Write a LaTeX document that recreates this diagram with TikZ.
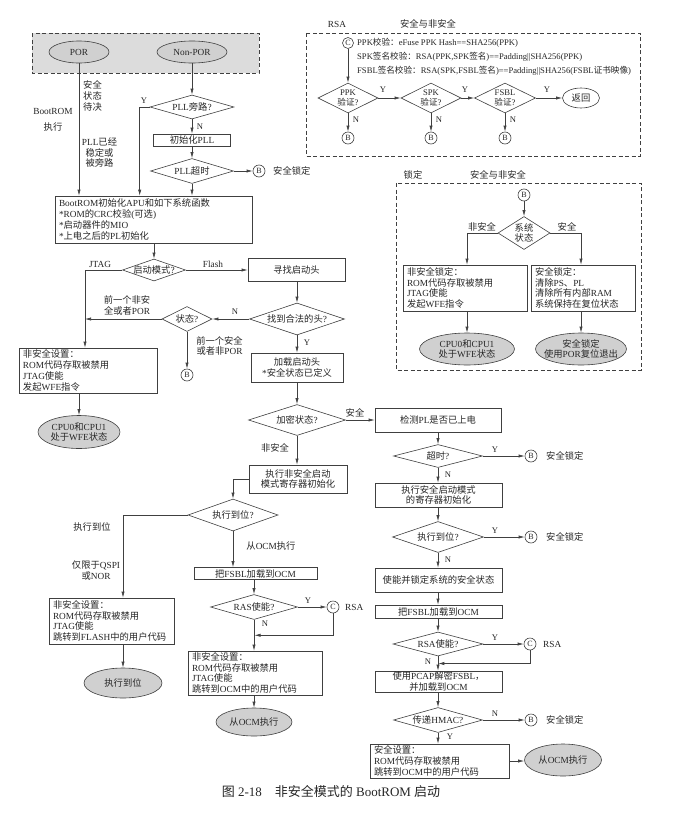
\documentclass[tikz,border=0pt]{standalone}
\usepackage{fontspec}
\setmainfont{Liberation Serif}
\newfontfamily\cjkf{Noto Sans CJK SC}
\newfontfamily\latf{Liberation Serif}
\usetikzlibrary{arrows.meta,shapes.geometric,calc}
\XeTeXinterchartokenstate=1
\chardef\cjkcls=7
\newcount\cjkcnt
\def\setcjkrange#1#2{\cjkcnt=#1\relax\loop\XeTeXcharclass\cjkcnt=\cjkcls\relax\ifnum\cjkcnt<#2\relax\advance\cjkcnt by 1\relax\repeat}
\setcjkrange{"3000}{"303F}
\setcjkrange{"4E00}{"9FFF}
\setcjkrange{"FF00}{"FFEF}
\XeTeXinterchartoks 0 \cjkcls = {\cjkf}
\XeTeXinterchartoks 4095 \cjkcls = {\cjkf}
\XeTeXinterchartoks \cjkcls 0 = {\latf}
\XeTeXinterchartoks \cjkcls 4095 = {\latf}

\definecolor{lc}{HTML}{404040}
\definecolor{tc}{HTML}{262626}
\definecolor{gf}{HTML}{D0D0D0}
\definecolor{gb}{HTML}{DCDCDC}
\newcommand\fs{\fontsize{9.3}{10.8}\selectfont}
\newcommand\fsm{\fontsize{8.6}{10}\selectfont}
\tikzset{
 lw/.style={draw=lc, line width=0.6pt},
 box/.style={lw, rectangle, inner sep=1pt, align=center, text=tc, font=\fs},
 lbox/.style={lw, rectangle, inner xsep=4pt, inner ysep=1pt, align=left, text=tc, font=\fs},
 dia/.style={lw, diamond, inner sep=0pt},
 ell/.style={lw, ellipse, inner sep=0pt, fill=gf},
 lab/.style={inner sep=0pt, align=center, text=tc, font=\fs},
 yn/.style={inner sep=0pt, text=tc, font=\fsm},
 circ/.style={lw, circle, minimum size=12pt, inner sep=0pt, text=tc, font=\fontsize{8}{8}\selectfont},
 arr/.style={lw, -{Latex[length=6pt,width=3.2pt]}},
 dashbox/.style={draw=lc, line width=0.6pt, dash pattern=on 4pt off 2.5pt},
}
\begin{document}
\begin{tikzpicture}[x=1pt,y=-1pt]
\useasboundingbox[fill=white] (0,0) rectangle (674,814);

% ---------- top gray region
\draw[dashbox, fill=gb] (32,33) rectangle (259,73);
\node[ell, minimum width=60, minimum height=22, label={[lab]center:POR}] (por) at (79,52) {};
\node[ell, minimum width=70, minimum height=22, label={[lab]center:Non-POR}] (npor) at (192,52) {};

\node[lab] (l1) at (92.5,96) {安全\\状态\\待决};
\node[lab] (l2) at (53,111) {BootROM};
\node[lab] (l2b) at (53,127) {执行};
\node[lab] (l3) at (99.5,152.5) {PLL已经\\稳定或\\被旁路};

\node[dia, minimum width=84, minimum height=24, label={[lab]center:PLL旁路?}] (pllbyp) at (192,107) {};
\node[box, minimum width=77, minimum height=12, inner sep=0pt] (initpll) at (192,140) {初始化PLL};
\node[dia, minimum width=83, minimum height=25, label={[lab]center:PLL超时}] (plltime) at (192,171) {};
\node[circ] (b1) at (259,171) {B};
\node[lab, anchor=west] (b1t) at (273,171) {安全锁定};
\node[yn] (y1) at (144,101) {Y};
\node[yn] (n1) at (200,127) {N};

\node[lbox, minimum width=197, text width=189, minimum height=47] (bootrom) at (153.5,219.5) {BootROM初始化APU和如下系统函数\\{}*ROM的CRC校验(可选)\\{}*启动器件的MIO\\{}*上电之后的PL初始化};

\node[dia, minimum width=63, minimum height=22, label={[lab]center:启动模式?}] (bootmode) at (154,270) {};
\node[lab] (jt) at (100,264) {JTAG};
\node[lab] (fl) at (213,264) {Flash};
\node[box, minimum width=97, minimum height=23] (findhdr) at (296.5,270) {寻找启动头};
\node[dia, minimum width=95, minimum height=32, label={[lab]center:找到合法的头?}] (validhdr) at (297,319) {};
\node[dia, minimum width=50, minimum height=25, label={[lab]center:状态?}] (state) at (187,319) {};
\node[yn] (n2) at (235,312) {N};
\node[lab] (l4) at (127,305.5) {前一个非安\\全或者POR};
\node[lab] (l5) at (219.5,346) {前一个安全\\或者非POR};
\node[circ] (b2) at (187,375) {B};
\node[yn] (y2) at (307,343) {Y};
\node[box, minimum width=92, minimum height=29] (loadhdr) at (297,367.5) {加载启动头\\{}*安全状态已定义};

\node[lbox, minimum width=138, text width=130, minimum height=45] (nsset1) at (88,370.5) {非安全设置：\\ROM代码存取被禁用\\JTAG使能\\发起WFE指令};
\node[ell, minimum width=82, minimum height=33, label={[lab]center:CPU0和CPU1\\处于WFE状态}] (wfe1) at (79,432) {};

\node[dia, minimum width=97, minimum height=31, label={[lab]center:加密状态?}] (enc) at (297,420) {};
\node[lab] (l6) at (355,413) {安全};
\node[lab] (l7) at (275,448) {非安全};
\node[box, minimum width=126, minimum height=24] (detpl) at (438,420) {检测PL是否已上电};
\node[box, minimum width=98, minimum height=28] (nsinit) at (298,479) {执行非安全启动\\模式寄存器初始化};
\node[dia, minimum width=90, minimum height=32, label={[lab]center:执行到位?}] (exec1) at (233,515) {};
\node[lab] (l8) at (92,527) {执行到位};
\node[lab] (l9) at (96,570.5) {仅限于QSPI\\或NOR};
\node[lab] (l10) at (271,546) {从OCM执行};
\node[lbox, minimum width=125, text width=117, minimum height=46] (nsset2) at (111.5,621) {非安全设置：\\ROM代码存取被禁用\\JTAG使能\\跳转到FLASH中的用户代码};
\node[ell, minimum width=78, minimum height=30, label={[lab]center:执行到位}] (done) at (123,683) {};

\node[box, minimum width=123, minimum height=12, inner sep=0pt] (lf1) at (255.5,573.5) {把FSBL加载到OCM};
\node[dia, minimum width=87, minimum height=25, label={[lab]center:RAS使能?}] (ras) at (254,607) {};
\node[circ] (c1) at (333,607) {C};
\node[lab, anchor=west] (c1t) at (345,607) {RSA};
\node[yn] (y3) at (308,601) {Y};
\node[yn] (n3) at (265,624) {N};
\node[lbox, minimum width=134, text width=126, minimum height=44] (nsset3) at (255,673) {非安全设置：\\ROM代码存取被禁用\\JTAG使能\\跳转到OCM中的用户代码};
\node[ell, minimum width=76, minimum height=28, label={[lab]center:从OCM执行}] (ocm1) at (254,722) {};

% ---------- right column
\node[dia, minimum width=89, minimum height=23, label={[lab]center:超时?}] (tout) at (438,456) {};
\node[circ] (b3) at (531,456) {B};
\node[lab, anchor=west] (b3t) at (546,456) {安全锁定};
\node[yn] (y4) at (495,450) {Y};
\node[yn] (n4) at (448,475) {N};
\node[box, minimum width=127, minimum height=24] (secinit) at (438.5,495) {执行安全启动模式\\的寄存器初始化};
\node[dia, minimum width=91, minimum height=31, label={[lab]center:执行到位?}] (exec2) at (438,537) {};
\node[circ] (b4) at (531,537) {B};
\node[lab, anchor=west] (b4t) at (546,537) {安全锁定};
\node[yn] (y5) at (495,531) {Y};
\node[yn] (n5) at (448,560) {N};
\node[box, minimum width=127, minimum height=24] (lock) at (438.5,580) {使能并锁定系统的安全状态};
\node[box, minimum width=127, minimum height=13, inner sep=0pt] (lf2) at (438.5,611.5) {把FSBL加载到OCM};
\node[dia, minimum width=90, minimum height=24, label={[lab]center:RSA使能?}] (rsa2) at (438,644) {};
\node[circ] (c2) at (530,644) {C};
\node[lab, anchor=west] (c2t) at (543,644) {RSA};
\node[yn] (y6) at (495,638) {Y};
\node[yn] (n6) at (428,662) {N};
\node[box, minimum width=127, minimum height=21, inner sep=0pt] (pcap) at (438.5,681.5) {使用PCAP解密FSBL，\\并加载到OCM};
\node[dia, minimum width=89, minimum height=25, label={[lab]center:传递HMAC?}] (hmac) at (438,720) {};
\node[circ] (b5) at (531,720) {B};
\node[lab, anchor=west] (b5t) at (546,720) {安全锁定};
\node[yn] (n7) at (495,714) {N};
\node[yn] (y7) at (450,737) {Y};
\node[lbox, minimum width=139, text width=131, minimum height=34] (secset) at (439.5,761) {安全设置：\\ROM代码存取被禁用\\跳转到OCM中的用户代码};
\node[ell, minimum width=77, minimum height=32, label={[lab]center:从OCM执行}] (ocm2) at (563,760) {};

% ---------- RSA box
\draw[dashbox] (306,33) rectangle (640,156);
\node[lab] (rsat) at (337,24) {RSA};
\node[lab] (rsat2) at (428,24) {安全与非安全};
\node[circ, minimum size=11pt] (c3) at (348,43) {C};
\node[lab, font=\fontsize{8.6}{14}\selectfont, align=left, anchor=west] (rsatext) at (357,57) {PPK校验：eFuse PPK Hash==SHA256(PPK)\\SPK签名校验：RSA(PPK,SPK签名)==Padding||SHA256(PPK)\\FSBL签名校验：RSA(SPK,FSBL签名)==Padding||SHA256(FSBL证书映像)};
\node[dia, minimum width=60, minimum height=30, label={[lab,font=\fsm]center:PPK\\验证?}] (ppk) at (348,98) {};
\node[dia, minimum width=60, minimum height=30, label={[lab,font=\fsm]center:SPK\\验证?}] (spk) at (431,98) {};
\node[dia, minimum width=61, minimum height=30, label={[lab,font=\fsm]center:FSBL\\验证?}] (fsbl) at (505,98) {};
\node[lw, ellipse, inner sep=0pt, minimum width=37, minimum height=20, label={[lab]center:返回}] (ret) at (581,98) {};
\node[circ] (b6) at (348,138) {B};
\node[circ] (b7) at (431,138) {B};
\node[circ] (b8) at (505,138) {B};
\node[yn] (y8) at (383,90) {Y};
\node[yn] (y9) at (465,90) {Y};
\node[yn] (y10) at (547,90) {Y};
\node[yn] (n8) at (356,120) {N};
\node[yn] (n9) at (439,120) {N};
\node[yn] (n10) at (513,120) {N};

% ---------- lock box
\draw[dashbox] (396,183) rectangle (641,370);
\node[lab] (lockt) at (413,175) {锁定};
\node[lab] (lockt2) at (498,175) {安全与非安全};
\node[circ] (b9) at (524,195) {B};
\node[dia, minimum width=52, minimum height=33, label={[lab]center:系统\\状态}] (sys) at (524,233) {};
\node[lab] (l11) at (482,227) {非安全};
\node[lab] (l12) at (567,227) {安全};
\node[lbox, minimum width=124, text width=116, minimum height=46] (nsl) at (465,288) {非安全锁定：\\ROM代码存取被禁用\\JTAG使能\\发起WFE指令};
\node[lbox, minimum width=104, text width=96, minimum height=46] (sl) at (583,288) {安全锁定：\\清除PS、PL\\清除所有内部RAM\\系统保持在复位状态};
\node[ell, minimum width=95, minimum height=32, label={[lab]center:CPU0和CPU1\\处于WFE状态}] (wfe2) at (467,349) {};
\node[ell, minimum width=91, minimum height=32, label={[lab]center:安全锁定\\使用POR复位退出}] (porx) at (581,349) {};

% ---------- caption
\node[lab, font=\fontsize{13}{13}\selectfont] (cap) at (331,791) {图 2-18\quad 非安全模式的 BootROM 启动};

% ---------- connectors
\draw[arr] (por.south) -- (por.south |- bootrom.north);
\draw[arr] (npor.south) -- (pllbyp.north);
\draw[arr] (pllbyp.west) -- ++(-10,0) coordinate (yk) -- (yk |- bootrom.north);
\draw[arr] (pllbyp.south) -- (initpll.north);
\draw[arr] (initpll.south) -- (plltime.north);
\draw[arr] (plltime.east) -- (b1.west);
\draw[arr] (plltime.south) -- (plltime.south |- bootrom.north);
\draw[arr] (bootmode.north |- bootrom.south) -- (bootmode.north);
\coordinate (jx) at (85,300);
\draw[arr] (bootmode.west) -| (jx |- nsset1.north);
\draw[arr] (bootmode.east) -- (findhdr.west);
\draw[arr] (validhdr.north |- findhdr.south) -- (validhdr.north);
\draw[arr] (validhdr.west) -- (state.east);
\draw[arr] (state.west) -- (jx |- state.west);
\draw[arr] (state.south) -- (b2.north);
\draw[arr] (validhdr.south) -- (loadhdr.north);
\draw[arr] (nsset1.south -| wfe1.north) -- (wfe1.north);
\draw[arr] (loadhdr.south) -- (enc.north);
\draw[arr] (enc.east) -- (detpl.west);
\draw[arr] (enc.south) -- (enc.south |- nsinit.north);
\draw[arr] (nsinit.west) -| (exec1.north);
\coordinate (qx) at (123,560);
\draw[arr] (exec1.west) -| (qx |- nsset2.north);
\draw[arr] (nsset2.south -| qx) -- (done.north);
\draw[arr] (exec1.south) -- (exec1.south |- lf1.north);
\draw[arr] (ras.north |- lf1.south) -- (ras.north);
\draw[arr] (ras.east) -- (c1.west);
\draw[arr] (c1.south) |- ($(ras.south)!0.5!(nsset3.north)$);
\draw[arr] (ras.south) -- (ras.south |- nsset3.north);
\draw[arr] (ocm1.north |- nsset3.south) -- (ocm1.north);

\draw[arr] (tout.north |- detpl.south) -- (tout.north);
\draw[arr] (tout.east) -- (b3.west);
\draw[arr] (tout.south) -- (tout.south |- secinit.north);
\draw[arr] (exec2.north |- secinit.south) -- (exec2.north);
\draw[arr] (exec2.east) -- (b4.west);
\draw[arr] (exec2.south) -- (exec2.south |- lock.north);
\draw[arr] (exec2.south |- lock.south) -- (exec2.south |- lf2.north);
\draw[arr] (rsa2.north |- lf2.south) -- (rsa2.north);
\draw[arr] (rsa2.east) -- (c2.west);
\draw[arr] (c2.south) |- ($(rsa2.south)!0.5!(pcap.north)$);
\draw[arr] (rsa2.south) -- (rsa2.south |- pcap.north);
\draw[arr] (hmac.north |- pcap.south) -- (hmac.north);
\draw[arr] (hmac.east) -- (b5.west);
\draw[arr] (hmac.south) -- (hmac.south |- secset.north);
\draw[arr] (secset.east) -- (secset.east -| ocm2.west);

\draw[arr] (c3.south) -- (c3.south |- ppk.north);
\draw[arr] (ppk.east) -- (spk.west);
\draw[arr] (spk.east) -- (fsbl.west);
\draw[arr] (fsbl.east) -- (ret.west);
\draw[arr] (ppk.south) -- (b6.north);
\draw[arr] (spk.south) -- (b7.north);
\draw[arr] (fsbl.south) -- (b8.north);

\draw[arr] (b9.south) -- (sys.north);
\draw[arr] (sys.west) -| (wfe2.north |- nsl.north);
\draw[arr] (sys.east) -| (porx.north |- sl.north);
\draw[arr] (wfe2.north |- nsl.south) -- (wfe2.north);
\draw[arr] (porx.north |- sl.south) -- (porx.north);
\end{tikzpicture}
\end{document}
